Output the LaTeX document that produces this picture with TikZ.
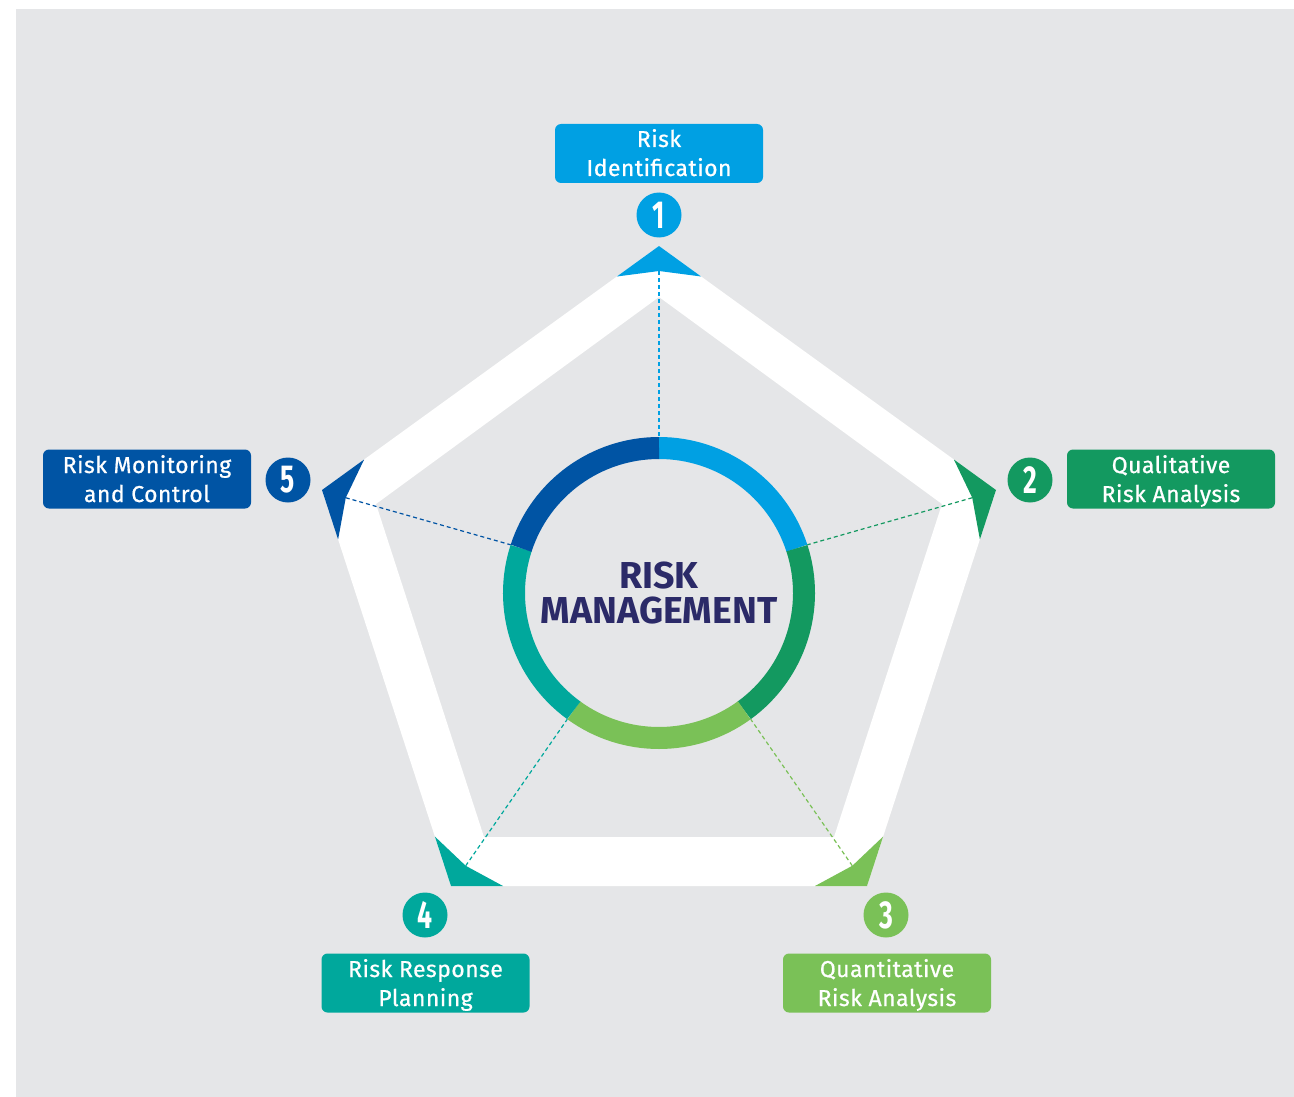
\documentclass[tikz,border=0pt]{standalone}
\usepackage{fontspec}
\setmainfont{Fira Sans}
\newfontfamily\labelfont{Fira Sans}[FakeBold=0.7, LetterSpace=2]
\usetikzlibrary{calc}

\definecolor{bg}{RGB}{229,230,232}
\definecolor{cA}{RGB}{0,160,227}   % identification
\definecolor{cB}{RGB}{19,153,96}   % qualitative
\definecolor{cC}{RGB}{122,193,87}  % quantitative
\definecolor{cD}{RGB}{0,168,156}   % response
\definecolor{cE}{RGB}{0,84,164}    % monitoring
\definecolor{navy}{RGB}{43,42,104}

\newcommand\digit[1]{\scalebox{0.68}[1]{\fontsize{39}{39}\selectfont\bfseries #1}}

\tikzset{
  numdisc/.style={circle, inner sep=0pt, minimum size=45pt, text=white},
  labelbox/.style={rounded corners=6pt, inner sep=0pt, minimum width=208pt, minimum height=59pt},
  labeltext/.style={text=white, inner sep=0pt, anchor=base, font=\labelfont\fontsize{23}{29}\selectfont},
  linkline/.style={line width=1.2pt, dash pattern=on 4pt off 3pt},
  ringseg/.style={line width=22pt},
  centretext/.style={text=navy, inner sep=0pt, anchor=base, font=\fontsize{37.5}{37.5}\selectfont\bfseries},
}

\begin{document}
\begin{tikzpicture}[x=1pt,y=-1pt]
\useasboundingbox (0,0) rectangle (1294,1097);
\fill[white] (0,0) rectangle (1294,1097);
\fill[bg] (16,9) rectangle (1294,1097);

% pentagon frame
\coordinate (O) at (659,600);
\coordinate (P1) at (659,246);
\coordinate (P2) at (996,490);
\coordinate (P3) at (867,886);
\coordinate (P4) at (451,886);
\coordinate (P5) at (322,490);
\coordinate (Q1) at (659,297);
\coordinate (Q2) at (942,504);
\coordinate (Q3) at (834,837);
\coordinate (Q4) at (484,837);
\coordinate (Q5) at (376,504);
\fill[white, even odd rule] (P1)--(P2)--(P3)--(P4)--(P5)--cycle
                            (Q1)--(Q2)--(Q3)--(Q4)--(Q5)--cycle;

% arrow heads at the corners
\foreach \t/\a/\b/\c in {P1/P2/P5/cA, P2/P3/P1/cB, P3/P4/P2/cC, P4/P5/P3/cD, P5/P1/P4/cE}{
  \coordinate (N\t) at ($(\t)!25pt!(O)$);
  \fill[\c] (\t) -- ($(\t)!52pt!(\a)$) -- (N\t) -- ($(\t)!52pt!(\b)$) -- cycle;
}

% ring anchor points
\begin{scope}[shift={(659,593)}, yscale=-1]
  \coordinate (R1) at (90:156);
  \coordinate (R2) at (18:156);
  \coordinate (R3) at (-54:156);
  \coordinate (R4) at (-126:156);
  \coordinate (R5) at (162:156);
\end{scope}

% dashed links
\draw[linkline, cA] (NP1) -- (R1);
\draw[linkline, cB] (NP2) -- (R2);
\draw[linkline, cC] (NP3) -- (R3);
\draw[linkline, cD] (NP4) -- (R4);
\draw[linkline, cE] (NP5) -- (R5);

% central ring
\begin{scope}[shift={(659,593)}, yscale=-1]
  \draw[ringseg, cA] (90:145) arc[start angle=90, end angle=18, radius=145];
  \draw[ringseg, cB] (18:145) arc[start angle=18, end angle=-54, radius=145];
  \draw[ringseg, cC] (-54:145) arc[start angle=-54, end angle=-126, radius=145];
  \draw[ringseg, cD] (-126:145) arc[start angle=-126, end angle=-198, radius=145];
  \draw[ringseg, cE] (162:145) arc[start angle=162, end angle=90, radius=145];
\end{scope}

\node[centretext] (t1) at (659,588) {RISK};
\node[centretext] (t2) at (659,623) {MANAGEMENT};

% step 1
\node[numdisc, fill=cA] (n1) at (659,215) {\digit{1}};
\node[labelbox, fill=cA] (b1) at (659,153.5) {};
\node[labeltext] (b1a) at (659,147) {Risk};
\node[labeltext] (b1b) at (659,176) {Identification};

% step 2
\node[numdisc, fill=cB] (n2) at (1030,480) {\digit{2}};
\node[labelbox, fill=cB] (b2) at (1171,479) {};
\node[labeltext] (b2a) at (1171,473) {Qualitative};
\node[labeltext] (b2b) at (1171,502) {Risk Analysis};

% step 3
\node[numdisc, fill=cC] (n3) at (886,915) {\digit{3}};
\node[labelbox, fill=cC] (b3) at (887,983) {};
\node[labeltext] (b3a) at (887,977) {Quantitative};
\node[labeltext] (b3b) at (887,1006) {Risk Analysis};

% step 4
\node[numdisc, fill=cD] (n4) at (425,915) {\digit{4}};
\node[labelbox, fill=cD] (b4) at (425.5,983) {};
\node[labeltext] (b4a) at (425.5,977) {Risk Response};
\node[labeltext] (b4b) at (425.5,1006) {Planning};

% step 5
\node[numdisc, fill=cE] (n5) at (288,480) {\digit{5}};
\node[labelbox, fill=cE] (b5) at (147,479) {};
\node[labeltext] (b5a) at (147,473) {Risk Monitoring};
\node[labeltext] (b5b) at (147,502) {and Control};
\end{tikzpicture}
\end{document}
